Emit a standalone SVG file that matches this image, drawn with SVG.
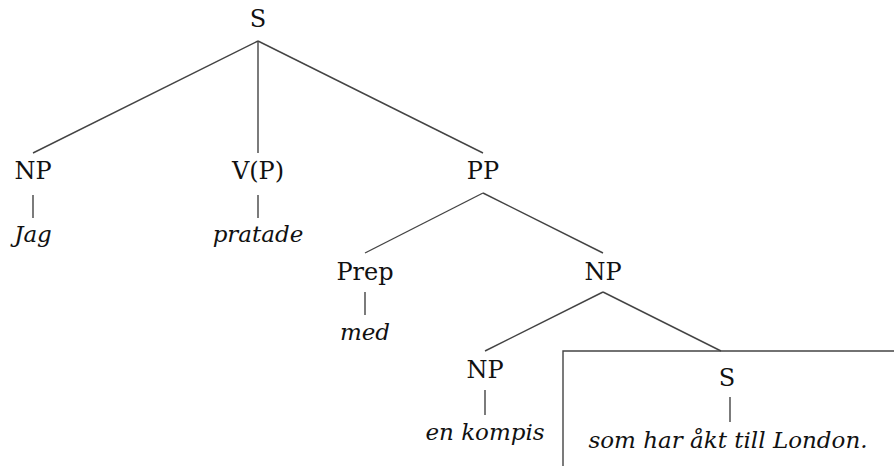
<svg xmlns="http://www.w3.org/2000/svg" width="894" height="466" viewBox="0 0 894 466">
<style>
text{font-family:"DejaVu Serif","Liberation Serif",serif;font-size:24px;fill:#111;text-anchor:middle}
.i{font-style:italic;font-size:23px}
line,path{stroke:#444;stroke-width:1.4;fill:none}
</style>
<rect width="894" height="466" fill="#fff"/>
<g id="connectors">
<line x1="258" y1="41" x2="33" y2="153"/>
<line x1="258" y1="41" x2="258" y2="153"/>
<line x1="258" y1="41" x2="483" y2="153"/>
<line x1="33" y1="195" x2="33" y2="218"/>
<line x1="258" y1="195" x2="258" y2="218"/>
<line x1="483" y1="193" x2="365" y2="253"/>
<line x1="483" y1="193" x2="603" y2="253"/>
<line x1="365" y1="292" x2="365" y2="315"/>
<line x1="603" y1="292" x2="485" y2="351"/>
<line x1="603" y1="292" x2="721" y2="351"/>
<line x1="485" y1="390" x2="485" y2="415"/>
<line x1="730" y1="397" x2="730" y2="422"/>
</g>
<g id="box"><path d="M563 466V351H894"/></g>
<g id="n-s"><text x="258" y="27">S</text></g>
<g id="n-np1"><text x="33" y="179">NP</text></g>
<g id="n-jag"><text class="i" x="33" y="242">Jag</text></g>
<g id="n-vp"><text x="258" y="179">V(P)</text></g>
<g id="n-pratade"><text class="i" x="258" y="242">pratade</text></g>
<g id="n-pp"><text x="483" y="179">PP</text></g>
<g id="n-prep"><text x="365" y="280">Prep</text></g>
<g id="n-med"><text class="i" x="365" y="340">med</text></g>
<g id="n-np2"><text x="603" y="280">NP</text></g>
<g id="n-np3"><text x="485" y="378">NP</text></g>
<g id="n-kompis"><text class="i" x="485" y="440">en kompis</text></g>
<g id="n-s2"><text x="727" y="386">S</text></g>
<g id="n-rel"><text class="i" x="728" y="448">som har åkt till London.</text></g>
</svg>
